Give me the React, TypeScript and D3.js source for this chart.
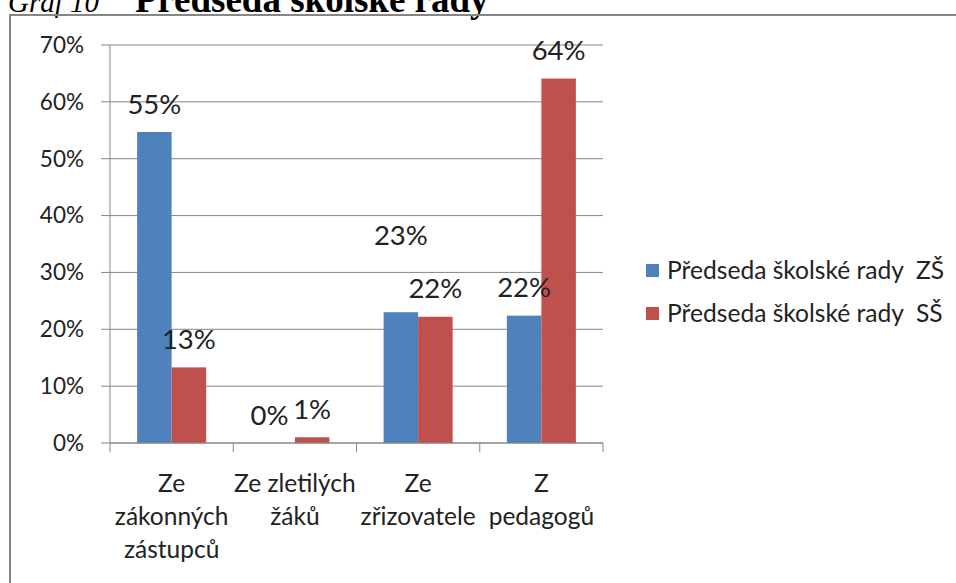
import React from 'react';
import * as d3 from 'd3';

// categories (wrapped the way the original axis shows them)
const categories = ['Ze zákonných zástupců', 'Ze zletilých žáků', 'Ze zřizovatele', 'Z pedagogů'];
const categoryLines = [
    ['Ze', 'zákonných', 'zástupců'],
    ['Ze zletilých', 'žáků'],
    ['Ze', 'zřizovatele'],
    ['Z', 'pedagogů'],
];

const seriesNames = ['Předseda školské rady  ZŠ', 'Předseda školské rady  SŠ'];
const valuesZS = [0.547, 0, 0.23, 0.224];
const valuesSS = [0.133, 0.01, 0.222, 0.641];
const yTicks = [0, 0.1, 0.2, 0.3, 0.4, 0.5, 0.6, 0.7];

const colors = ['#4F81BD', '#C0504D'];
const grid = '#868686';
const font = 'Lato, "Open Sans", sans-serif';

const App = () => {
    const margin = { top: 45, left: 110, right: 603, bottom: 443 };

    const x0 = d3.scaleBand().domain(categories).range([margin.left, margin.right]);
    const bw = x0.bandwidth();
    const x1 = d3.scaleBand().domain(seriesNames).range([bw * 0.22, bw * 0.78]);
    const y = d3.scaleLinear().domain([0, 0.7]).range([margin.bottom, margin.top]);
    const pct = d3.format('.0%');

    const series = [valuesZS, valuesSS];

    // label nudges copied from the original (Excel moved a couple of them by hand)
    const labelShift = (s, i) => {
        if (s === 0 && i === 2) return { dx: 0, dy: -49 };
        if (s === 0 && i === 1) return { dx: -8, dy: 0 };
        return { dx: 0, dy: 0 };
    };

    return (
        <svg width={956} height={583} style={{ position: 'absolute', left: 0, top: 0, background: '#fff' }}>
            {/* caption, cropped at the top edge as in the scan */}
            <text x={8} y={12} fontFamily='"Liberation Serif", serif' fontSize={29} fontStyle="italic">Graf 10</text>
            <text x={135} y={12} fontFamily='"Liberation Serif", serif' fontSize={37} fontWeight="bold">
                Předseda školské rady
            </text>

            {/* chart frame */}
            <rect x={10} y={15} width={1000} height={700} fill="none" stroke={grid} strokeWidth={2} />

            {/* y gridlines and tick labels */}
            {yTicks.map(t => (
                <g key={t}>
                    <line x1={margin.left - 9} x2={margin.right} y1={y(t)} y2={y(t)} stroke={grid} strokeWidth={1} />
                    <text x={84} y={y(t)} dy="0.35em" textAnchor="end" fontFamily={font} fontSize={22.5} fill="#222">
                        {pct(t)}
                    </text>
                </g>
            ))}
            <line x1={margin.left} x2={margin.left} y1={margin.top} y2={margin.bottom} stroke={grid} />

            {/* bars */}
            {series.map((vals, s) =>
                vals.map((v, i) => (
                    <rect
                        key={s + '-' + i}
                        x={x0(categories[i]) + x1(seriesNames[s])}
                        y={y(v)}
                        width={x1.bandwidth()}
                        height={y(0) - y(v)}
                        fill={colors[s]}
                    />
                ))
            )}

            {/* x axis with category ticks */}
            <line x1={margin.left} x2={margin.right} y1={margin.bottom} y2={margin.bottom} stroke={grid} />
            {[...categories.map(c => x0(c)), margin.right].map((xv, i) => (
                <line key={i} x1={xv} x2={xv} y1={margin.bottom} y2={margin.bottom + 9} stroke={grid} />
            ))}
            {categoryLines.map((lines, i) => (
                <text key={i} textAnchor="middle" fontFamily={font} fontSize={24.5} fill="#222">
                    {lines.map((l, j) => (
                        <tspan key={j} x={x0(categories[i]) + bw / 2} y={491.5 + j * 33}>{l}</tspan>
                    ))}
                </text>
            ))}

            {/* data labels */}
            {series.map((vals, s) =>
                vals.map((v, i) => {
                    const sh = labelShift(s, i);
                    return (
                        <text
                            key={'l' + s + '-' + i}
                            x={x0(categories[i]) + x1(seriesNames[s]) + x1.bandwidth() / 2 + sh.dx}
                            y={y(v) - 28 + sh.dy}
                            dy="0.35em"
                            textAnchor="middle"
                            fontFamily={font}
                            fontSize={27.5}
                            fill="#222"
                        >
                            {pct(Math.round(v * 100) / 100)}
                        </text>
                    );
                })
            )}

            {/* legend */}
            {seriesNames.map((n, s) => (
                <g key={n} transform={`translate(646, ${270 + s * 43})`}>
                    <rect x={0} y={-6} width={13} height={13} fill={colors[s]} />
                    <text x={21} y={0} dy="0.35em" fontFamily={font} fontSize={24.6} fill="#222" style={{ whiteSpace: 'pre' }}>
                        {n}
                    </text>
                </g>
            ))}
        </svg>
    );
};

export default App;
